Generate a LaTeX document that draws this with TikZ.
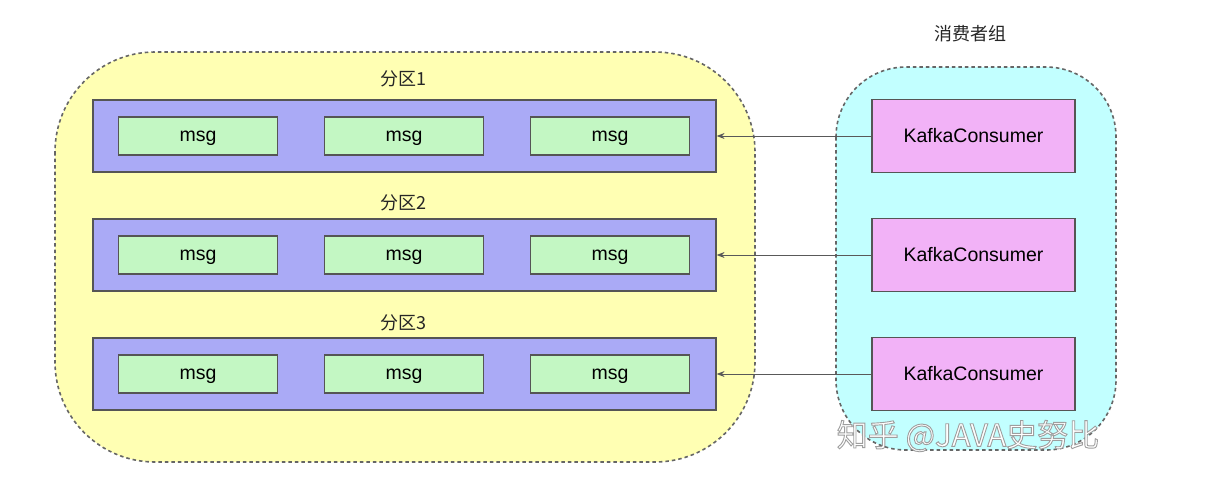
\documentclass[tikz,border=0pt]{standalone}
\usepackage{fontspec}
\setmainfont{Liberation Sans}
\newfontfamily\cjk{Noto Sans CJK SC}
\usetikzlibrary{arrows.meta}
\definecolor{yel}{HTML}{FFFFB3}
\definecolor{blu}{HTML}{AAAAF6}
\definecolor{grn}{HTML}{C3F7C3}
\definecolor{pnk}{HTML}{F2B2F7}
\definecolor{cyn}{HTML}{C2FFFF}
\definecolor{edge}{HTML}{555555}
\definecolor{dash}{HTML}{666666}
\tikzset{
  groupbox/.style={draw=dash, line width=1.6pt, dash pattern=on 3.5pt off 3pt},
  partbox/.style={draw=edge, fill=blu, line width=1.2pt, minimum width=623pt, minimum height=72pt, inner sep=0pt},
  msgbox/.style={draw=edge, fill=grn, line width=1.2pt, minimum width=159pt, minimum height=38pt, inner sep=0pt, text height=10pt, text depth=0pt, font=\fontsize{19.5}{21}\selectfont},
  consbox/.style={draw=edge, fill=pnk, line width=1.2pt, minimum width=203pt, minimum height=73pt, inner sep=0pt, font=\fontsize{19.5}{21}\selectfont},
  lbl/.style={font=\cjk\fontsize{18}{20}\selectfont, text=black!85, inner sep=0pt},
  conn/.style={draw=black!65, line width=1pt, -{Stealth[length=8pt,width=6pt]}},
  wmark/.style={font=\cjk\fontsize{31}{33}\selectfont, inner sep=0pt}
}
\begin{document}
\begin{tikzpicture}[x=1pt,y=-1pt]
\useasboundingbox (0,0) rectangle (1209,496);
\fill[white] (0,0) rectangle (1209,496);
% groups
\path[groupbox, fill=yel, rounded corners=100pt] (55,52) rectangle (755,462);
\path[groupbox, fill=cyn, rounded corners=70pt] (836,67) rectangle (1116,450);
\node[lbl] (cg) at (970,34) {消费者组};
% partitions
\foreach \i/\y/\ly in {1/136/79, 2/255/203, 3/374/323} {
  \node[partbox] (p\i) at (404.5,\y) {};
  \node[lbl] (l\i) at (403,\ly) {分区\i};
  \node[msgbox] (m\i a) at (198,\y) {msg};
  \node[msgbox] (m\i b) at (404,\y) {msg};
  \node[msgbox] (m\i c) at (610,\y) {msg};
  \node[consbox] (c\i) at (973.5,\y) {KafkaConsumer};
  \draw[conn] (c\i.west) -- (p\i.east);
}
% watermark (white letters with grey outline)
\node[wmark, text=white] (wm) at (968,436) {\special{pdf:code 2 Tr 0.9 w 0.62 G}知乎 @JAVA史努比\special{pdf:code 0 Tr}};
\end{tikzpicture}
\end{document}
